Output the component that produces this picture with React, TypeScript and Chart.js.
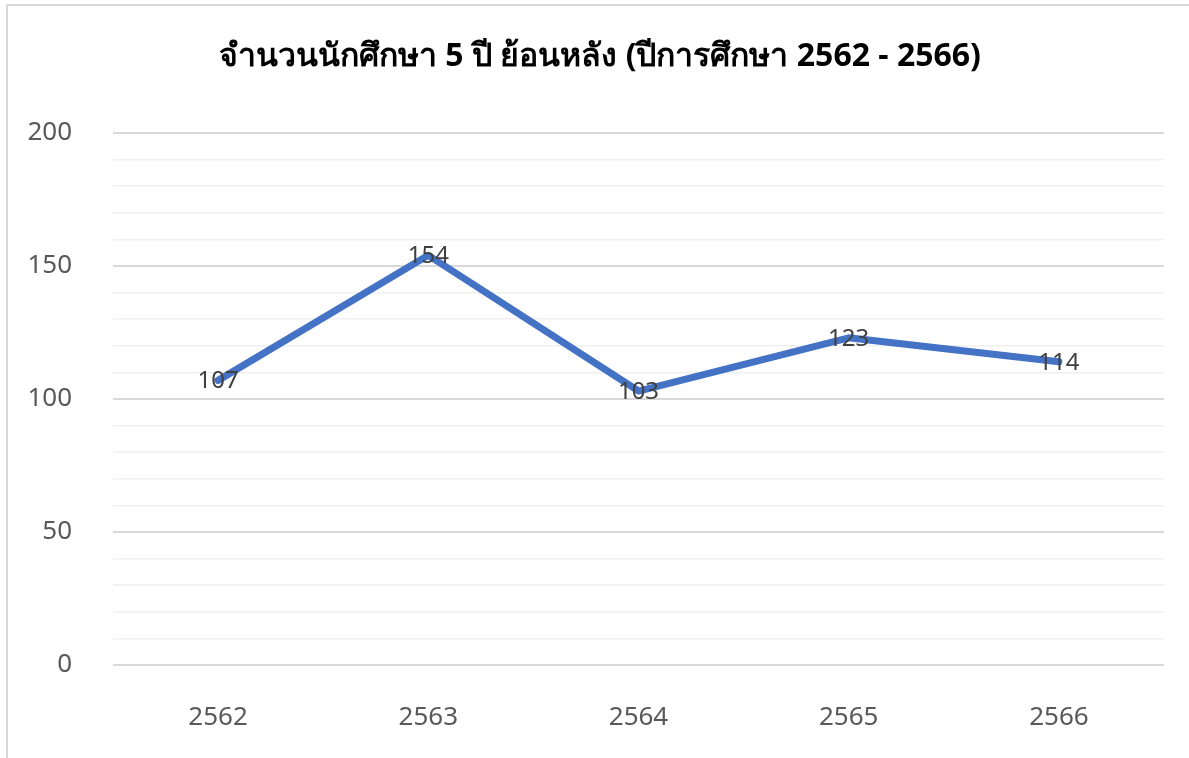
import React, { useEffect, useRef } from "react";
import { Chart, registerables } from "chart.js";

Chart.register(...registerables);

const TITLE = "จำนวนนักศึกษา 5 ปี ย้อนหลัง (ปีการศึกษา 2562 - 2566)";
const YEARS = ["2562", "2563", "2564", "2565", "2566"];
const STUDENTS = [107, 154, 103, 123, 114];
const Y_MIN = 0;
const Y_MAX = 200;
const Y_MINOR_STEP = 10;
const Y_LABEL_STEP = 50;

const FONT = "'Noto Sans', 'Open Sans', 'DejaVu Sans', sans-serif";
const TITLE_FONT = "'Noto Sans', 'DejaVu Sans', sans-serif";

const labelPlugin = {
  id: "pointLabels",
  afterDatasetsDraw(chart: any) {
    const ctx = chart.ctx;
    const meta = chart.getDatasetMeta(0);
    const data = chart.data.datasets[0].data;
    ctx.save();
    ctx.font = `24px ${FONT}`;
    ctx.fillStyle = "#404040";
    ctx.textAlign = "center";
    ctx.textBaseline = "middle";
    meta.data.forEach((pt: any, i: number) => {
      ctx.fillText(String(data[i]), pt.x, pt.y + 1);
    });
    ctx.restore();
  },
};

const titlePlugin = {
  id: "centeredTitle",
  afterDraw(chart: any) {
    const ctx = chart.ctx;
    ctx.save();
    ctx.font = `bold 32px ${TITLE_FONT}`;
    ctx.fillStyle = "#000000";
    ctx.textAlign = "center";
    ctx.textBaseline = "middle";
    ctx.fillText(TITLE, 600, 57);
    ctx.restore();
  },
};

export default function App() {
  const ref = useRef<HTMLCanvasElement | null>(null);

  useEffect(() => {
    document.body.style.margin = "0";
    if (!ref.current) return;
    const chart = new Chart(ref.current, {
      type: "line",
      data: {
        labels: YEARS,
        datasets: [
          {
            data: STUDENTS,
            borderColor: "#4472C4",
            backgroundColor: "#4472C4",
            borderWidth: 7,
            pointRadius: 0,
            pointHoverRadius: 0,
            tension: 0,
            borderCapStyle: "round",
            borderJoinStyle: "round",
          },
        ],
      },
      options: {
        animation: false,
        responsive: false,
        maintainAspectRatio: false,
        layout: { padding: { left: 0, right: 36, top: 133, bottom: 0 } },
        plugins: {
          legend: { display: false },
          tooltip: { enabled: false },
          title: { display: false },
        },
        scales: {
          x: {
            offset: true,
            grid: { display: false, drawTicks: false },
            border: { display: false },
            ticks: {
              color: "#595959",
              font: { family: FONT, size: 26 },
              padding: 37,
              maxRotation: 0,
            },
            afterFit(scale: any) {
              scale.height = 93;
            },
          },
          y: {
            min: Y_MIN,
            max: Y_MAX,
            border: { display: false },
            grid: {
              drawTicks: false,
              lineWidth: (c: any) => (c.tick && c.tick.value % Y_LABEL_STEP === 0 ? 2 : 1.5),
              color: (c: any) =>
                c.tick && c.tick.value % Y_LABEL_STEP === 0 ? "#d9d9d9" : "#f0f0f0",
            },
            ticks: {
              stepSize: Y_MINOR_STEP,
              autoSkip: false,
              color: "#595959",
              font: { family: FONT, size: 26 },
              padding: 41,
              callback: (v: any) => (Number(v) % Y_LABEL_STEP === 0 ? String(v) : ""),
            },
            afterFit(scale: any) {
              scale.width = 113;
            },
          },
        },
      },
      plugins: [labelPlugin, titlePlugin],
    } as any);
    return () => chart.destroy();
  }, []);

  return (
    <div
      style={{
        position: "relative",
        width: 1189,
        height: 758,
        overflow: "hidden",
        background: "#ffffff",
      }}
    >
      <canvas
        ref={ref}
        width={1200}
        height={758}
        style={{ position: "absolute", left: 0, top: 0, width: 1200, height: 758 }}
      />
      <div
        style={{
          position: "absolute",
          left: 6,
          top: 4,
          width: 1300,
          height: 900,
          borderLeft: "2px solid #d9d9d9",
          borderTop: "2px solid #d9d9d9",
          pointerEvents: "none",
        }}
      />
    </div>
  );
}
